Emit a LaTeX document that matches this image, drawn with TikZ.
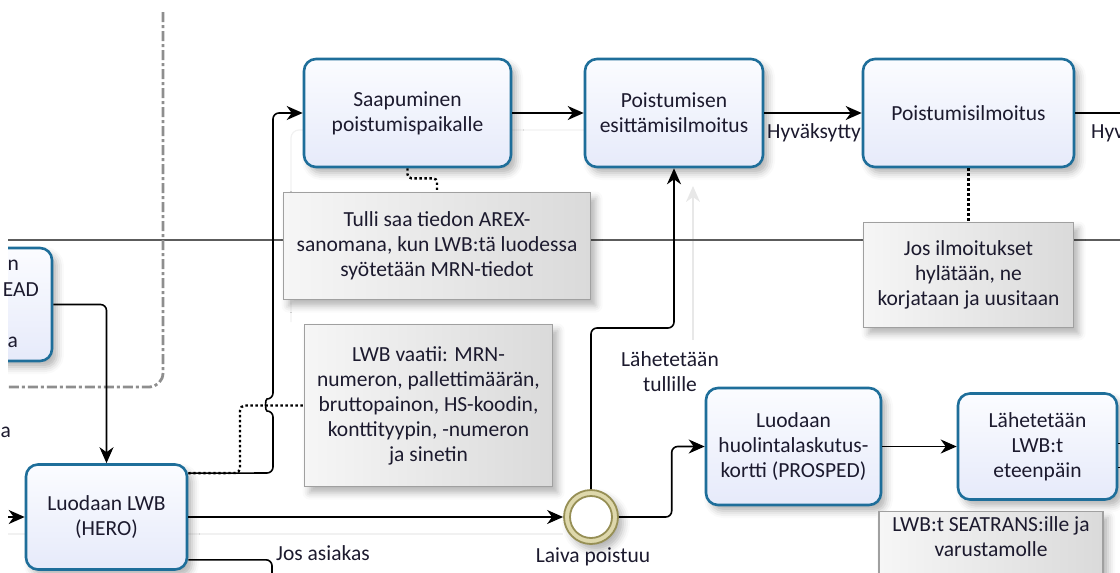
\documentclass[tikz,border=0pt]{standalone}
\usepackage{fontspec}
\setmainfont{Carlito}
\usetikzlibrary{arrows.meta,shadows.blur,calc}
\definecolor{taskblue}{HTML}{1E6E9A}
\definecolor{tasktop}{HTML}{FBFCFF}
\definecolor{taskbot}{HTML}{E6EAFA}
\definecolor{notedraw}{HTML}{A0A0A0}
\definecolor{notelight}{HTML}{F6F6F6}
\definecolor{notedark}{HTML}{DADADA}
\definecolor{ink}{HTML}{1C1A2E}
\definecolor{laneline}{HTML}{5C5C5C}
\definecolor{groupgray}{HTML}{8E8E8E}
\definecolor{ghost}{HTML}{F1F1F1}
\definecolor{ghostarrow}{HTML}{E8E8E8}
\definecolor{olive}{HTML}{968F55}
\definecolor{khaki}{HTML}{DED8AC}

\begin{document}
\begin{tikzpicture}[x=1pt,y=-1pt,
  every node/.style={text=ink, font=\fontsize{21.5}{25}\selectfont},
  softshadow/.style={blur shadow={shadow xshift=5pt, shadow yshift=-6pt,
      shadow blur radius=7pt, shadow opacity=30}},
  task/.style={draw=taskblue, line width=2.6pt, rounded corners=12pt,
      top color=tasktop, bottom color=taskbot, align=center, inner sep=0pt,
      softshadow},
  note/.style={draw=notedraw, line width=1.2pt, left color=notelight,
      right color=notedark, align=center, inner sep=0pt, softshadow},
  lbl/.style={inner sep=0pt, align=center},
  conn/.style={draw=black, line width=1.6pt},
  flow/.style={conn, -{Stealth[length=16pt, width=14pt, inset=5pt]}},
  dotline/.style={draw=black, line width=2.4pt, dash pattern=on 2.4pt off 2.6pt},
  lane/.style={draw=laneline, line width=1.3pt},
  groupline/.style={draw=groupgray, line width=2.8pt, rounded corners=14pt,
      dash pattern=on 10pt off 3pt on 3pt off 3pt},
  ghostline/.style={draw=ghost, line width=1.2pt},
]
\useasboundingbox (0,0) rectangle (1120,573);

\begin{scope}
\clip (8,0) rectangle (1120,573);

% faint guide lines in the background
\draw[ghostline] (8,534) -- (563,534);
\draw[ghostline, rounded corners=8pt] (291,322) -- (291,130) -- (600,130);
\draw[draw=ghostarrow, line width=1.4pt, -{Stealth[length=16pt, width=14pt, inset=5pt]}]
  (693,340) -- (693,186);

% lane boundary and group border
\draw[lane] (6,240) -- (1125,240);
\draw[groupline] (163,12) -- (163,387) -- (4,387);

% tasks
\node[task, minimum width=110, minimum height=113] (prev) at (-3,304.5) {};
\node[task, minimum width=207, minimum height=108] (saap) at (407.5,113)
  {Saapuminen\\poistumispaikalle};
\node[task, minimum width=178, minimum height=108] (poist) at (674,113)
  {Poistumisen\\esittämisilmoitus};
\node[task, minimum width=211, minimum height=108] (pilm) at (968.5,113)
  {Poistumisilmoitus};
\node[task, minimum width=161, minimum height=105] (lwb) at (106.5,517)
  {Luodaan LWB\\(HERO)};
\node[task, minimum width=175, minimum height=117] (huol) at (793.5,446.5)
  {Luodaan\\huolintalaskutus-\\kortti (PROSPED)};
\node[task, minimum width=159, minimum height=106] (lah) at (1037.5,446.5)
  {Lähetetään\\LWB:t\\eteenpäin};

% annotations
\node[note, minimum width=307, minimum height=107] (tulli) at (437,246)
  {Tulli saa tiedon AREX-\\sanomana, kun LWB:tä luodessa\\syötetään MRN-tiedot};
\node[note, minimum width=210, minimum height=105] (jos) at (968.5,275)
  {Jos ilmoitukset\\hylätään, ne\\korjataan ja uusitaan};
\node[note, minimum width=248, minimum height=162] (vaatii) at (428.5,405.5)
  {LWB vaatii: MRN-\\numeron, pallettimäärän,\\bruttopainon, HS-koodin,\\konttityypin, -numeron\\ja sinetin};
\node[note, minimum width=224, anchor=north, inner ysep=5pt, text depth=60pt] (seat)
  at (991,511) {LWB:t SEATRANS:ille ja\\varustamolle};

% intermediate event
\node[circle, minimum size=54, draw=olive, line width=1.8pt, fill=khaki,
      inner sep=0pt, softshadow] (ev) at (591,517) {};
\node[circle, minimum size=42, draw=olive, line width=1.8pt, fill=white,
      inner sep=0pt] (evin) at (ev) {};
\node[lbl] (evlbl) at (593,557) {Laiva poistuu};

% sequence flows
\coordinate (inL) at (4,517);
\draw[flow] (inL) -- (lwb.west);
\draw[flow, rounded corners=6pt] (prev.east) -| (lwb.north);
\coordinate (lwbA) at ($(lwb.north east)+(0,10)$);
\draw[flow, rounded corners=6pt] (lwbA) -- (273,473) -- (273,411)
  .. controls (265,411) and (265,399) .. (273,399) -- (273,113) -- (saap.west);
\draw[flow] (saap.east) -- (poist.west);
\draw[flow] (poist.east) -- (pilm.west);
\coordinate (outR) at (1130,113);
\draw[conn] (pilm.east) -- (outR);
\draw[flow] (lwb.east) -- (ev.west);
\draw[flow, rounded corners=6pt] (ev.north) |- (poist.south |- 0,328) -- (poist.south);
\draw[flow, rounded corners=6pt] (ev.east) -| ($(huol.west)+(-33,0)$) -- (huol.west);
\draw[flow] (huol.east) -- (lah.west);
\draw[conn] ($(lah.east)+(0,-3)$) -- ++(12,0);
\draw[conn] ($(lah.east)+(0,21)$) -- ++(12,0);
\coordinate (lwbB) at ($(lwb.south east)+(0,-11)$);
\coordinate (downB) at (272,600);
\draw[conn, rounded corners=6pt] (lwbB) -| (downB);

% associations
\draw[dotline, rounded corners=5pt] (lwbA) -- (240,473) -- (240,405.5) -- (vaatii.west);
\draw[dotline, rounded corners=4pt] (saap.south) -- ++(0,10) -| (tulli.north);
\draw[dotline] (pilm.south) -- (jos.north);

% flow labels
\node[lbl] (hyv) at (814,133) {Hyväksytty};
\node[lbl, anchor=west] (hyv2) at (1091,133) {Hyväksytty};
\node[lbl] (tull) at (670,372) {Lähetetään\\tullille};
\node[lbl, anchor=west] (jasi) at (276,553) {Jos asiakas};
\end{scope}

% text ends at the left border
\node[lbl, anchor=east] (f1) at (19,265) {n};
\node[lbl, anchor=east] (f2) at (39,290) {EAD};
\node[lbl, anchor=east] (f3) at (18,342) {a};
\node[lbl, anchor=east] (f4) at (11,432) {a};
\end{tikzpicture}
\end{document}
